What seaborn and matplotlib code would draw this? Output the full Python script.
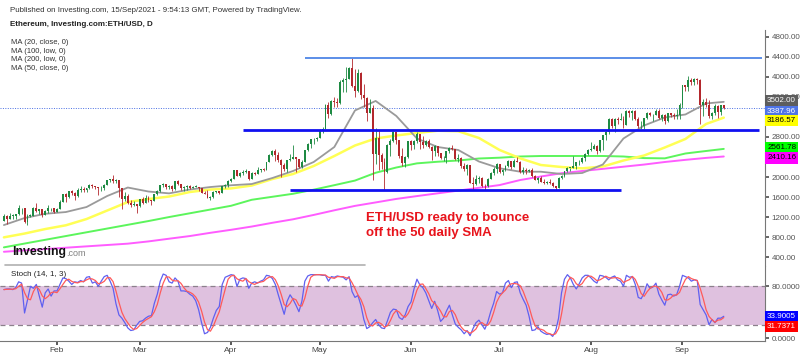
import pandas as pd
import numpy as np
import matplotlib
matplotlib.use('Agg')
import matplotlib.pyplot as plt
import matplotlib.dates as mdates
from matplotlib.ticker import FuncFormatter
import seaborn as sns

# -----------------------
# DATOS (ETH/USD diario 14/Ene - 15/Sep 2021)
# -----------------------
dates = pd.date_range('2021-01-14', '2021-09-15', freq='D')
first_open = 1130

closes = [
    1230, 1170, 1230, 1230, 1255, 1375, 1380, 1110, 1230, 1230, 1390, 1320, 1360, 1250, 1330, 1380, 1380, 1310,
    1370, 1510, 1660, 1595, 1720, 1680, 1615, 1750, 1770, 1745, 1785, 1845, 1815, 1800, 1780, 1780, 1850, 1940,
    1960, 1920, 1935, 1780, 1570, 1625, 1480, 1445, 1460, 1415,
    1565, 1490, 1575, 1540, 1530, 1655, 1725, 1835, 1870, 1795, 1825, 1770, 1925, 1855, 1790, 1805, 1825, 1780,
    1810, 1810, 1780, 1680, 1670, 1590, 1595, 1700, 1715, 1690, 1820, 1845, 1920,
    1970, 2135, 2025, 2075, 2110, 2115, 1965, 2085, 2070, 2135, 2155, 2140, 2300, 2435, 2520, 2430, 2330, 2240,
    2160, 2330, 2360, 2400, 2360, 2210, 2310, 2530, 2660, 2750, 2760, 2775,
    2945, 2950, 3430, 3250, 3520, 3490, 3480, 3900, 3930, 3950, 4170, 3820, 3720, 4080, 3640, 3580, 3280, 3380,
    2460, 2780, 2430, 2300, 2100, 2640, 2710, 2890, 2740, 2420, 2280, 2390, 2710,
    2630, 2710, 2860, 2690, 2630, 2710, 2590, 2520, 2610, 2470, 2370, 2370, 2510, 2580, 2550, 2360, 2370, 2230,
    2170, 2250, 1890, 1870, 1970, 1990, 1830, 1820, 1970, 2080, 2160, 2270,
    2110, 2150, 2220, 2320, 2200, 2320, 2310, 2110, 2150, 2130, 2150, 2030, 1940, 1990, 1910, 1880, 1900, 1890,
    1820, 1790, 1990, 2020, 2120, 2190, 2190, 2230, 2300, 2300, 2380, 2460, 2540,
    2560, 2610, 2510, 2730, 2830, 2890, 3160, 3010, 3160, 3140, 3160, 3040, 3320, 3270, 3310, 3150, 3010, 3020,
    3180, 3280, 3230, 3240, 3320, 3170, 3230, 3110, 3270, 3240, 3220, 3230, 3430,
    3830, 3790, 3940, 3890, 3950, 3930, 3430, 3500, 3430, 3210, 3270, 3410, 3290, 3430, 3387.96]

highs = [
    1260, 1250, 1290, 1265, 1260, 1440, 1390, 1385, 1255, 1265, 1405, 1475, 1370, 1360, 1350, 1440, 1390, 1380,
    1380, 1540, 1670, 1690, 1730, 1740, 1700, 1780, 1830, 1800, 1790, 1870, 1870, 1830, 1810, 1820, 1860, 1950,
    1970, 2040, 1960, 1940, 1780, 1700, 1670, 1550, 1520, 1460,
    1570, 1600, 1650, 1620, 1550, 1670, 1735, 1840, 1880, 1870, 1840, 1840, 1930, 1940, 1870, 1820, 1840, 1840,
    1830, 1850, 1810, 1790, 1720, 1750, 1620, 1720, 1730, 1730, 1830, 1860, 1940,
    1990, 2150, 2150, 2100, 2140, 2160, 2120, 2100, 2100, 2200, 2160, 2190, 2300, 2460, 2530, 2550, 2490, 2360,
    2280, 2340, 2450, 2640, 2380, 2360, 2330, 2540, 2670, 2760, 2780, 2790,
    2960, 2990, 3460, 3500, 3540, 3600, 3580, 3940, 3980, 4200, 4200, 4370, 4150, 4150, 4100, 3860, 3600, 3560,
    3440, 2980, 2940, 2470, 2380, 2650, 2760, 2910, 2900, 2740, 2570, 2420, 2720,
    2740, 2730, 2890, 2860, 2810, 2740, 2760, 2620, 2640, 2620, 2480, 2410, 2520, 2600, 2640, 2550, 2460, 2400,
    2280, 2270, 2250, 2000, 2040, 2020, 2010, 1860, 1980, 2110, 2200, 2280,
    2270, 2160, 2250, 2340, 2320, 2350, 2400, 2320, 2200, 2180, 2170, 2180, 2040, 2010, 2030, 1970, 1930, 1970,
    1900, 1830, 2010, 2040, 2130, 2200, 2190, 2420, 2310, 2340, 2400, 2470, 2550,
    2700, 2660, 2630, 2740, 2840, 2910, 3180, 3180, 3180, 3200, 3270, 3220, 3330, 3330, 3330, 3330, 3190, 3120,
    3180, 3290, 3300, 3260, 3360, 3360, 3250, 3250, 3280, 3280, 3280, 3350, 3470,
    3840, 3840, 4020, 3970, 3980, 3970, 3950, 3560, 3580, 3530, 3290, 3450, 3430, 3440, 3420]

lows = [
    1120, 1060, 1160, 1160, 1170, 1240, 1260, 1085, 1040, 1200, 1220, 1300, 1260, 1200, 1240, 1280, 1320, 1290,
    1300, 1360, 1500, 1510, 1590, 1650, 1540, 1600, 1710, 1700, 1710, 1760, 1780, 1770, 1650, 1720, 1750, 1840,
    1910, 1880, 1890, 1600, 1370, 1520, 1470, 1400, 1430, 1290,
    1410, 1460, 1480, 1500, 1440, 1520, 1640, 1700, 1800, 1770, 1770, 1730, 1740, 1850, 1740, 1730, 1740, 1760,
    1780, 1800, 1730, 1680, 1660, 1580, 1550, 1590, 1680, 1670, 1680, 1790, 1800,
    1900, 1960, 2020, 2000, 2040, 2080, 1940, 1960, 2050, 2060, 2110, 2120, 2140, 2300, 2420, 2320, 2300, 2000,
    2120, 2100, 2320, 2360, 2100, 2180, 2180, 2300, 2520, 2580, 2650, 2720,
    2770, 2870, 2950, 3180, 3240, 3400, 3390, 3460, 3700, 3700, 3950, 3800, 3600, 3700, 3560, 3400, 3120, 3280,
    1940, 2260, 2150, 2160, 1750, 2090, 2420, 2690, 2650, 2380, 2220, 2200, 2370,
    2530, 2560, 2680, 2560, 2580, 2610, 2570, 2330, 2410, 2420, 2360, 2320, 2290, 2470, 2530, 2340, 2310, 2180,
    2120, 2050, 1880, 1740, 1850, 1890, 1800, 1740, 1800, 1960, 2050, 2090,
    2080, 2050, 2130, 2200, 2160, 2210, 2300, 2090, 2060, 2060, 2100, 2010, 1940, 1880, 1900, 1860, 1860, 1870,
    1800, 1740, 1790, 1960, 2000, 2110, 2120, 2180, 2170, 2240, 2280, 2320, 2430,
    2520, 2560, 2460, 2500, 2540, 2730, 2860, 2970, 2900, 3060, 3130, 2980, 3030, 3200, 3130, 3140, 2980, 2960,
    2960, 3160, 3220, 3120, 3230, 3150, 3120, 3060, 3090, 3200, 3160, 3150, 3150,
    3380, 3720, 3720, 3830, 3840, 3850, 3050, 3210, 3400, 3170, 3150, 3230, 3170, 3240, 3360]

# Medias moviles (valores leidos cada 7 dias + ultimo dia)
ma_dates = list(pd.date_range('2021-01-14', '2021-09-09', freq='7D')) + [pd.Timestamp('2021-09-15')]
ma20_close = [1040, 1180, 1265, 1300, 1400, 1620, 1790, 1710, 1673, 1750, 1800, 1835, 1860, 1980, 2120, 2300,
              2600, 3330, 3520, 3220, 2770, 2600, 2540, 2310, 2175, 2106, 2106, 2060, 2080, 2250, 2770, 3030,
              3190, 3250, 3470, 3502.00]
ma50_close = [794, 870, 960, 1035, 1160, 1330, 1500, 1560, 1610, 1700, 1750, 1772, 1830, 1960, 2060, 2220,
              2420, 2630, 2770, 2830, 2880, 2925, 2915, 2780, 2540, 2373, 2240, 2200, 2173, 2210, 2330, 2430,
              2590, 2760, 3060, 3186.57]
ma100_low = [594, 670, 745, 820, 895, 970, 1045, 1120, 1200, 1275, 1350, 1425, 1545, 1605, 1665, 1747,
             1837, 1929, 2085, 2190, 2273, 2305, 2330, 2370, 2386, 2410, 2420, 2420, 2420, 2420, 2410, 2378,
             2373, 2470, 2520, 2561.78]
ma200_low = [506, 533, 560, 587, 614, 641, 668, 713, 767, 820, 885, 945, 1010, 1085, 1155, 1242, 1335,
             1423, 1492, 1562, 1619, 1674, 1728, 1784, 1839, 1940, 2010, 2076, 2120, 2163, 2206, 2249, 2300,
             2343, 2382, 2410.16]

# Soportes / resistencias dibujados
sr_levels = [4375, 2935, 1740]
sr_start = pd.to_datetime(['2021-04-26', '2021-04-05', '2021-04-21'])
sr_end = pd.to_datetime(['2021-09-28', '2021-09-27', '2021-08-11'])

# Estocastico %K (14, 1, 3)
stoch_k = [
    75, 76, 76, 75, 78, 87, 85, 39, 59, 80, 77, 83, 65, 48, 70, 76, 65, 73, 73, 83, 93, 92, 88, 83, 87, 86, 89, 87,
    94, 95, 85, 87, 80, 88, 95, 97, 88, 77, 53, 36, 31, 24, 16, 12, 13, 20, 26, 27, 31, 34, 35, 54, 68, 88, 99, 97,
    87, 85, 93, 88, 73, 73, 72, 68, 65, 58, 44, 24, 7, 9, 17, 31, 43, 49, 83, 94, 96, 98, 97, 80, 91, 93, 92, 77,
    85, 87, 85, 88, 90, 97, 96, 92, 83, 67, 52, 37, 57, 67, 60, 51, 41, 57, 88, 96, 98, 98, 98, 98, 97, 97, 88, 95,
    94, 96, 95, 94, 90, 95, 72, 63, 66, 51, 29, 15, 18, 24, 29, 21, 16, 15, 27, 40, 45, 44, 32, 29, 36, 49, 56, 76,
    91, 82, 78, 70, 58, 46, 57, 43, 26, 31, 42, 51, 36, 22, 17, 13, 7, 12, 4, 15, 24, 28, 21, 14, 25, 41, 54, 72,
    68, 70, 85, 89, 78, 86, 87, 70, 60, 51, 34, 12, 13, 18, 11, 8, 6, 7, 3, 11, 31, 70, 91, 98, 93, 83, 76, 84, 93,
    97, 97, 93, 88, 85, 97, 96, 94, 90, 94, 96, 90, 88, 80, 97, 94, 95, 83, 63, 61, 70, 84, 77, 79, 85, 68, 59, 51,
    67, 68, 65, 67, 80, 97, 95, 93, 88, 90, 89, 52, 44, 36, 21, 29, 24, 31, 31, 33.9005]
stoch_d_last = 31.7371

# etiquetas del eje tapadas por las cajas de valor en el original
hidden_price_ticks = [3200, 2400]
hidden_stoch_ticks = [40]

# -----------------------
# ESTILO
# -----------------------
sns.set_theme(style='white')
plt.rcParams['font.family'] = ['Liberation Sans', 'DejaVu Sans']

fig = plt.figure(figsize=(8, 3.56), dpi=100)
fig.patch.set_facecolor('white')
ax = fig.add_axes([0.0, 0.254, 0.956, 0.662])
ax2 = fig.add_axes([0.0, 0.042, 0.956, 0.212], sharex=ax)

x_left = pd.Timestamp('2021-01-14') - pd.Timedelta(days=1.32)
x_right = pd.Timestamp('2021-01-14') + pd.Timedelta(days=257.9)

# -----------------------
# VELAS
# -----------------------
opens = [first_open] + closes[:-1]
df = pd.DataFrame({'date': dates, 'open': opens, 'high': highs, 'low': lows, 'close': closes})
up = df['close'] >= df['open']
col = np.where(up, '#1e8a43', '#b3282d')

ax.vlines(df['date'], df['low'], df['high'], colors=col, lw=0.6, zorder=3)
ax.bar(df['date'], (df['close'] - df['open']).abs().clip(lower=8),
       bottom=df[['open', 'close']].min(axis=1), width=0.65, color=col, lw=0, zorder=4)

# Medias moviles
sns.lineplot(x=ma_dates, y=ma200_low, ax=ax, color='#ff5cff', lw=1.4, zorder=2)
sns.lineplot(x=ma_dates, y=ma100_low, ax=ax, color='#5cf55c', lw=1.4, zorder=2)
sns.lineplot(x=ma_dates, y=ma50_close, ax=ax, color='#ffff55', lw=1.8, zorder=2)
sns.lineplot(x=ma_dates, y=ma20_close, ax=ax, color='#9a9a9a', lw=1.3, zorder=2)

# Lineas horizontales
ax.hlines(sr_levels, sr_start, sr_end, colors=['#5b8ee8', '#1010f0', '#1010f0'],
          lw=[1.4, 2.0, 2.0], zorder=5)
ax.axhline(closes[-1], color='#4a6fe3', ls=(0, (1, 1.5)), lw=0.7, zorder=1)

ax.set_xlim(x_left, x_right)
ax.set_ylim(230, 4940)
ax.set_yticks(np.arange(400, 4801, 400))
ax.yaxis.tick_right()
ax.yaxis.set_major_formatter(FuncFormatter(lambda v, p: '' if round(v) in hidden_price_ticks else f'{v:.2f}'))
ax.tick_params(axis='y', labelsize=5.8, colors='#555555', length=3, pad=2, direction='out', right=True)
ax.tick_params(axis='x', bottom=False, labelbottom=False)
for s in ['top', 'left', 'bottom']:
    ax.spines[s].set_visible(False)
ax.spines['right'].set_color('#777777')
ax.spines['right'].set_linewidth(0.8)
ax.set_xlabel('')
ax.set_ylabel('')
ax.grid(False)

# Etiquetas de precio a la derecha
price_vals = [ma20_close[-1], closes[-1], ma50_close[-1], ma100_low[-1], ma200_low[-1]]
price_pos = [3520, 3306, 3120, 2580, 2380]
box_cols = ['#5d5d5d', '#4f74e6', '#ffff00', '#00ff00', '#ff00ff']
txt_cols = ['white', 'white', 'black', 'black', 'black']
for v, p, bc, tc in zip(price_vals, price_pos, box_cols, txt_cols):
    ax.text(1.003, p, f'{v:.2f}', transform=ax.get_yaxis_transform(), ha='left', va='center',
            fontsize=5.8, color=tc, clip_on=False, zorder=10,
            bbox=dict(boxstyle='square,pad=0.25', fc=bc, ec='none'))

# -----------------------
# ESTOCASTICO
# -----------------------
stoch = pd.DataFrame({'date': dates, 'k': stoch_k})
stoch['d'] = stoch['k'].rolling(3, min_periods=1).mean()

ax2.axhspan(20, 80, color='#dfc1df', lw=0, zorder=0)
for lv in [20, 80]:
    ax2.axhline(lv, color='#8c808c', ls=(0, (4, 3)), lw=0.9, zorder=1)
sns.lineplot(data=stoch, x='date', y='d', ax=ax2, color='#ff5a5a', lw=0.9, zorder=3)
sns.lineplot(data=stoch, x='date', y='k', ax=ax2, color='#6060f0', lw=0.9, zorder=2)

ax2.set_ylim(-4.2, 112)
ax2.set_xlim(x_left, x_right)
ax2.set_yticks([0, 40, 80])
ax2.yaxis.tick_right()
ax2.yaxis.set_major_formatter(FuncFormatter(lambda v, p: '' if round(v) in hidden_stoch_ticks else f'{v:.4f}'))
ax2.xaxis.set_major_locator(mdates.MonthLocator())
ax2.xaxis.set_major_formatter(mdates.DateFormatter('%b'))
ax2.tick_params(axis='y', labelsize=5.8, colors='#555555', length=3, pad=2, direction='out', right=True)
ax2.tick_params(axis='x', labelsize=6, colors='#444444', length=3, pad=1.5, direction='out', bottom=True)
for s in ['top', 'left']:
    ax2.spines[s].set_visible(False)
for s in ['right', 'bottom']:
    ax2.spines[s].set_color('#777777')
    ax2.spines[s].set_linewidth(0.8)
ax2.set_xlabel('')
ax2.set_ylabel('')
ax2.grid(False)
ax2.text(0.014, 0.88, 'Stoch (14, 1, 3)', transform=ax2.transAxes, fontsize=5.8, color='#222222',
         va='center', ha='left')

for v, p, bc in zip([stoch_k[-1], stoch_d_last], [34, 18], ['#0000ff', '#ff0000']):
    ax2.text(1.003, p, f'{v:.4f}', transform=ax2.get_yaxis_transform(), ha='left', va='center',
             fontsize=5.8, color='white', clip_on=False, zorder=10,
             bbox=dict(boxstyle='square,pad=0.25', fc=bc, ec='none'))

# -----------------------
# TEXTOS
# -----------------------
W, H = 800, 356
fig.text(10 / W, 1 - 11 / H, 'Published on Investing.com, 15/Sep/2021 - 9:54:13 GMT, Powered by TradingView.',
         fontsize=5.7, color='#333333', va='center')
fig.text(10 / W, 1 - 25 / H, 'Ethereum, Investing.com:ETH/USD, D', fontsize=5.8, fontweight='bold',
         color='#222222', va='center')
for i, t in enumerate(['MA (20, close, 0)', 'MA (100, low, 0)', 'MA (200, low, 0)', 'MA (50, close, 0)']):
    fig.text(11 / W, 1 - (42.7 + 8.5 * i) / H, t, fontsize=5.5, color='#333333', va='center')

fig.text(366 / W, 1 - 218 / H, 'ETH/USD ready to bounce', fontsize=9.5, fontweight='bold',
         color='#e8141c', va='center')
fig.text(366 / W, 1 - 233 / H, 'off the 50 daily SMA', fontsize=9.5, fontweight='bold',
         color='#e8141c', va='center')

fig.text(12 / W, 1 - 252 / H, 'Investing', fontsize=8.8, fontweight='bold', color='#111111', va='center')
fig.text(66 / W, 1 - 253.5 / H, '.com', fontsize=6.5, color='#808080', va='center')
ax.plot([5 / 765, 365 / 765], [0.002, 0.002], transform=ax.transAxes, color='#b0b0b0', lw=1.2,
        clip_on=False)

fig.savefig('out.png', dpi=100)
